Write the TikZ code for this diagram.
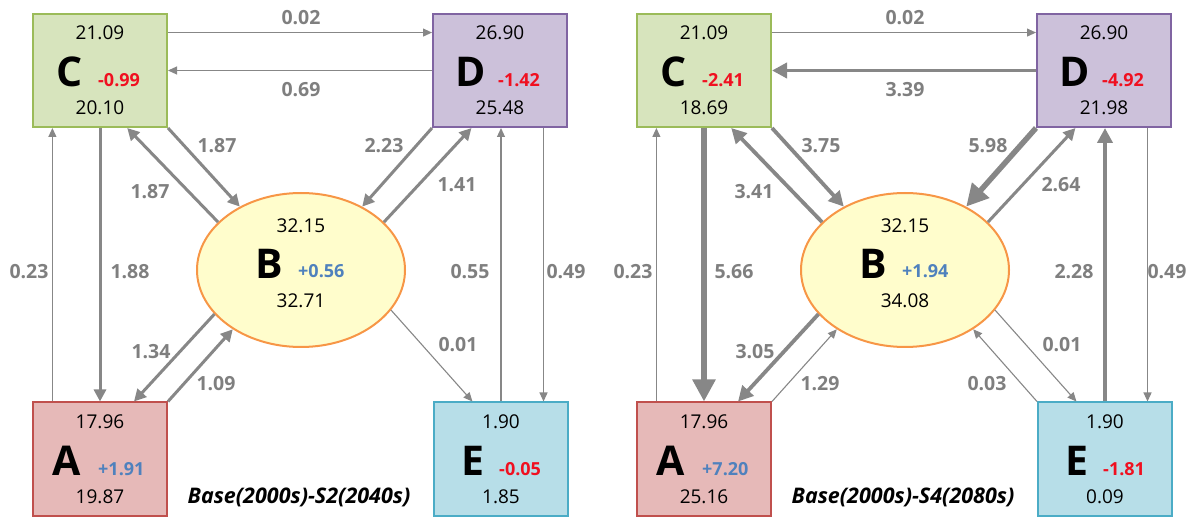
\documentclass[tikz,border=0pt]{standalone}
\usepackage{fontspec}
\setmainfont{Open Sans}
\usetikzlibrary{arrows.meta,shapes.geometric,calc}
\definecolor{arr}{HTML}{878787}
\definecolor{lbl}{HTML}{7F7F7F}
\definecolor{cfill}{HTML}{D7E4BD}\definecolor{cline}{HTML}{9BBB59}
\definecolor{dfill}{HTML}{CCC1DA}\definecolor{dline}{HTML}{8064A2}
\definecolor{afill}{HTML}{E6B9B8}\definecolor{aline}{HTML}{C0504D}
\definecolor{efill}{HTML}{B7DEE8}\definecolor{eline}{HTML}{4BACC6}
\definecolor{bfill}{HTML}{FFFDCC}\definecolor{bline}{HTML}{F79646}
\definecolor{negred}{HTML}{F01020}
\definecolor{posblue}{HTML}{4F81BD}
\tikzset{
 box/.style={draw, line width=2pt, minimum width=134pt, minimum height=113pt, inner sep=0pt},
 boxC/.style={box, fill=cfill, draw=cline},
 boxD/.style={box, fill=dfill, draw=dline},
 boxA/.style={box, fill=afill, draw=aline},
 boxE/.style={box, fill=efill, draw=eline},
 ell/.style={ellipse, draw=bline, fill=bfill, line width=2pt, minimum width=208pt, minimum height=154pt, inner sep=0pt},
 num/.style={anchor=base, font=\fontsize{19}{19}\selectfont, text=black, inner sep=0pt},
 big/.style={anchor=base, font=\fontsize{41}{41}\selectfont\bfseries, text=black, inner sep=0pt},
 dneg/.style={anchor=base west, font=\fontsize{18}{18}\selectfont\bfseries, text=negred, inner sep=0pt},
 dpos/.style={anchor=base west, font=\fontsize{18}{18}\selectfont\bfseries, text=posblue, inner sep=0pt},
 lab/.style={font=\fontsize{19.5}{19.5}\selectfont\bfseries, text=lbl, inner sep=0pt},
 captxt/.style={font=\fontsize{21.5}{21.5}\selectfont\bfseries\itshape, text=black, inner sep=0pt},
 fl0/.style={draw=arr, line width=1.1pt, -{Triangle[length=9pt,width=8pt]}},
 fl1/.style={draw=arr, line width=3pt, -{Triangle[length=12pt,width=12pt]}},
 fl2/.style={draw=arr, line width=3.8pt, -{Triangle[length=15pt,width=15pt]}},
 fl3/.style={draw=arr, line width=5.5pt, -{Triangle[length=22pt,width=22pt]}},
}
% #1 node name, #2 top, #3 letter, #4 letter x-offset, #5 delta style, #6 delta, #7 bottom
\newcommand\mybox[7]{%
 \node[num] (#1t) at ($(#1)+(0,-30.5)$) {#2};
 \node[big] (#1l) at ($(#1)+(#4,16.5)$) {#3};
 \node[#5] (#1d) at ($(#1)+(-2,16.5)$) {#6};
 \node[num] (#1b) at ($(#1)+(0,44.5)$) {#7};}
\newcommand\myell[5]{%
 \node[num] (#1t) at ($(#1)+(0,-37)$) {#2};
 \node[big] (#1l) at ($(#1)+(-32,9)$) {B};
 \node[#3] (#1d) at ($(#1)+(-3,8)$) {#4};
 \node[num] (#1b) at ($(#1)+(0,38)$) {#5};}
\begin{document}
\begin{tikzpicture}[x=1pt,y=-1pt]
\useasboundingbox (0,0) rectangle (1197,518);
% ---------------- left panel ----------------
\node[boxC] (CL) at (100,70.5) {};
\node[boxD] (DL) at (500,70.5) {};
\node[boxA] (AL) at (100,459) {};
\node[boxE] (EL) at (501,459) {};
\node[ell] (BL) at (301,270) {};
\mybox{CL}{21.09}{C}{-30}{dneg}{-0.99}{20.10}
\mybox{DL}{26.90}{D}{-29}{dneg}{-1.42}{25.48}
\mybox{AL}{17.96}{A}{-33}{dpos}{+1.91}{19.87}
\mybox{EL}{1.90}{E}{-28}{dneg}{-0.05}{1.85}
\myell{BL}{32.15}{dpos}{+0.56}{32.71}
\coordinate (DLe) at ($(DL.south)!0.64!(DL.south east)$);
\draw[fl0] ($(CL.north east)!0.34!(CL.east)$) -- ($(DL.north west)!0.34!(DL.west)$);
\draw[fl0] (DL.west) -- (CL.east);
\draw[fl1] (CL.south) -- (AL.north);
\draw[fl0] ($(AL.north)!0.7!(AL.north west)$) -- ($(CL.south)!0.7!(CL.south west)$);
\draw[fl1] (CL.south east) -- (BL.134);
\draw[fl1] (BL.150) -- ($(CL.south)!0.4!(CL.south east)$);
\draw[fl1] (DL.south west) -- (BL.46);
\draw[fl1] (BL.30) -- ($(DL.south)!0.42!(DL.south west)$);
\draw[fl0] (EL.north) -- (EL.north |- DL.south);
\draw[fl0] (DLe) -- (DLe |- EL.north);
\draw[fl0] (BL.336) -- ($(EL.north)!0.42!(EL.north west)$);
\draw[fl1] (BL.207) -- ($(AL.north)!0.5!(AL.north east)$);
\draw[fl1] (AL.north east) -- (BL.221);
\node[lab] (l1) at (301,18) {0.02};
\node[lab] (l2) at (301,90) {0.69};
\node[lab] (l3) at (217,146) {1.87};
\node[lab] (l4) at (150,192) {1.87};
\node[lab] (l5) at (384,146) {2.23};
\node[lab] (l6) at (457,185) {1.41};
\node[lab] (l7) at (29,272) {0.23};
\node[lab] (l8) at (130,272) {1.88};
\node[lab] (l9) at (470,272) {0.55};
\node[lab] (l10) at (566,272) {0.49};
\node[lab] (l11) at (458,345) {0.01};
\node[lab] (l12) at (151,352) {1.34};
\node[lab] (l13) at (216,384) {1.09};
\node[captxt] (capL) at (299,497) {Base(2000s)-S2(2040s)};
% ---------------- right panel ----------------
\begin{scope}[shift={(604,0)}]
\node[boxC] (CR) at (100,70.5) {};
\node[boxD] (DR) at (500,70.5) {};
\node[boxA] (AR) at (100,459) {};
\node[boxE] (ER) at (501,459) {};
\node[ell] (BR) at (301,270) {};
\mybox{CR}{21.09}{C}{-30}{dneg}{-2.41}{18.69}
\mybox{DR}{26.90}{D}{-29}{dneg}{-4.92}{21.98}
\mybox{AR}{17.96}{A}{-33}{dpos}{+7.20}{25.16}
\mybox{ER}{1.90}{E}{-28}{dneg}{-1.81}{0.09}
\myell{BR}{32.15}{dpos}{+1.94}{34.08}
\coordinate (DRe) at ($(DR.south)!0.64!(DR.south east)$);
\draw[fl0] ($(CR.north east)!0.34!(CR.east)$) -- ($(DR.north west)!0.34!(DR.west)$);
\draw[fl2] (DR.west) -- (CR.east);
\draw[fl3] (CR.south) -- (AR.north);
\draw[fl0] ($(AR.north)!0.7!(AR.north west)$) -- ($(CR.south)!0.7!(CR.south west)$);
\draw[fl2] (CR.south east) -- (BR.134);
\draw[fl2] (BR.150) -- ($(CR.south)!0.4!(CR.south east)$);
\draw[fl3] (DR.south west) -- (BR.46);
\draw[fl1] (BR.30) -- ($(DR.south)!0.42!(DR.south west)$);
\draw[fl2] (ER.north) -- (ER.north |- DR.south);
\draw[fl0] (DRe) -- (DRe |- ER.north);
\draw[fl0] (BR.336) -- ($(ER.north)!0.42!(ER.north west)$);
\draw[fl0] (ER.north west) -- (BR.319);
\draw[fl2] (BR.207) -- ($(AR.north)!0.5!(AR.north east)$);
\draw[fl0] (AR.north east) -- (BR.221);
\node[lab] (r1) at (301,18) {0.02};
\node[lab] (r2) at (301,90) {3.39};
\node[lab] (r3) at (217,146) {3.75};
\node[lab] (r4) at (150,192) {3.41};
\node[lab] (r5) at (384,146) {5.98};
\node[lab] (r6) at (457,185) {2.64};
\node[lab] (r7) at (29,272) {0.23};
\node[lab] (r8) at (130,272) {5.66};
\node[lab] (r9) at (470,272) {2.28};
\node[lab] (r10) at (563,272) {0.49};
\node[lab] (r11) at (458,345) {0.01};
\node[lab] (r12) at (383,384) {0.03};
\node[lab] (r13) at (151,352) {3.05};
\node[lab] (r14) at (216,384) {1.29};
\node[captxt] (capR) at (299,497) {Base(2000s)-S4(2080s)};
\end{scope}
\end{tikzpicture}
\end{document}
